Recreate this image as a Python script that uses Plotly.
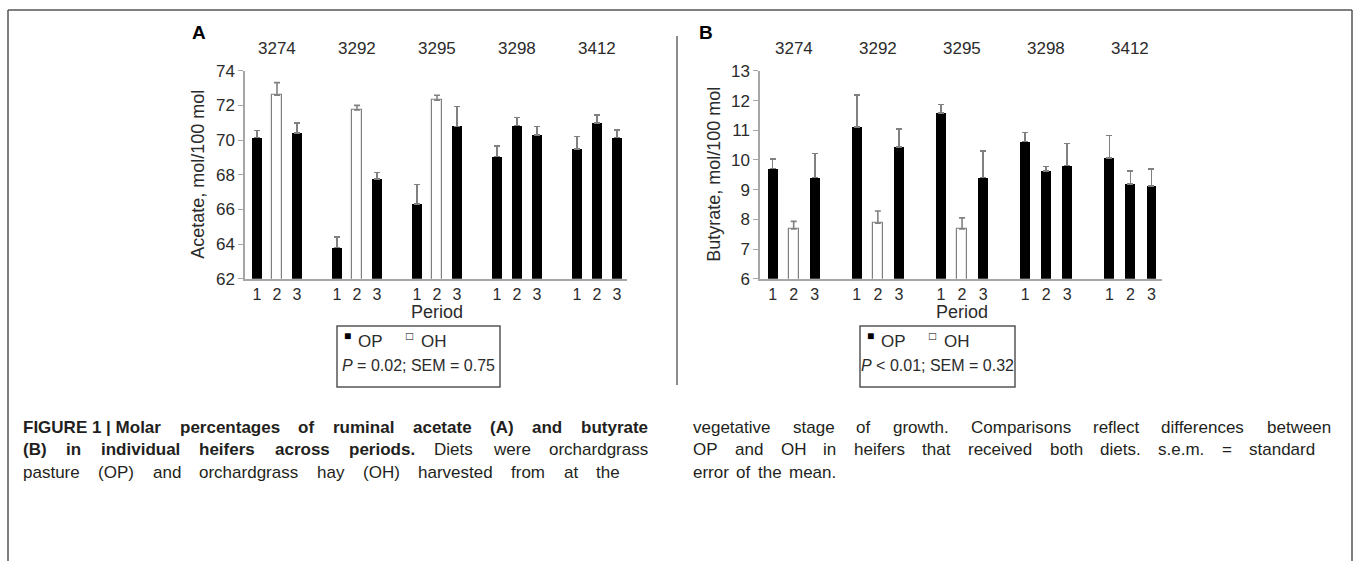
import plotly.graph_objects as go

# ---------------- data ----------------
heifers = ["3274", "3292", "3295", "3298", "3412"]
periods = [1, 2, 3]
diets = [["OP", "OH", "OP"],
         ["OP", "OH", "OP"],
         ["OP", "OH", "OP"],
         ["OP", "OP", "OP"],
         ["OP", "OP", "OP"]]
acetate = [[70.15, 72.6, 70.4],
           [63.8, 71.75, 67.75],
           [66.3, 72.3, 70.8],
           [69.05, 70.85, 70.3],
           [69.5, 71.0, 70.15]]
acetate_sem = [[0.40, 0.72, 0.58],
               [0.62, 0.26, 0.38],
               [1.15, 0.29, 1.15],
               [0.60, 0.46, 0.49],
               [0.71, 0.45, 0.43]]
butyrate = [[9.71, 7.68, 9.41],
            [11.11, 7.87, 10.44],
            [11.58, 7.68, 9.41],
            [10.62, 9.63, 9.81],
            [10.06, 9.20, 9.13]]
butyrate_sem = [[0.33, 0.25, 0.81],
                [1.08, 0.41, 0.60],
                [0.29, 0.37, 0.89],
                [0.31, 0.15, 0.75],
                [0.76, 0.43, 0.57]]
y_titles = ["Acetate, mol/100 mol", "Butyrate, mol/100 mol"]
panel_letters = ["A", "B"]
stats_text = ["<i>P</i> = 0.02; SEM = 0.75", "<i>P</i> &lt; 0.01; SEM = 0.32"]
diet_names = ["OP", "OH"]

caption_left = [
    [("FIGURE\u00a01\u00a0|\u00a0Molar percentages of ruminal acetate (A) and butyrate", True)],
    [("(B) in individual heifers across periods.", True), ("Diets were orchardgrass", False)],
    [("pasture (OP) and orchardgrass hay (OH) harvested from at the", False)],
]
caption_right = [
    [("vegetative stage of growth. Comparisons reflect differences between", False)],
    [("OP and OH in heifers that received both diets. s.e.m. = standard", False)],
    [("error of the mean.", False)],
]

# ---------------- geometry helpers ----------------
W, H = 1355, 571
def px(x): return x / W
def py(y): return 1 - y / H

FONT = "Liberation Sans, Arial, sans-serif"
TXT = "#2b2b2b"
AXC = "#a6a6a6"
GAP = 4  # one empty slot between heifers

def xpos(g, p):
    return g * GAP + (p - 1)

fig = go.Figure()

panels = [
    dict(vals=acetate, sems=acetate_sem, xa="x", ya="y", yr=[62, 74], dt=2,
         xd=[245, 627], title_x=198, letter_x=190, leg=[337, 500]),
    dict(vals=butyrate, sems=butyrate_sem, xa="x2", ya="y2", yr=[6, 13], dt=1,
         xd=[760, 1162], title_x=714, letter_x=697, leg=[860, 1015]),
]
PLOT_TOP, PLOT_BOT = 64, 279
LETTER_Y, HEIFER_Y, PERIOD_Y = 24, 41, 313
LEG_TOP, LEG_BOT, LEG_ROW1, LEG_ROW2 = 328, 391, 344, 369
CAP_Y = [433, 456, 479]
FRAME_TOP = 1

tickvals = [xpos(g, p) for g in range(len(heifers)) for p in periods]
ticktext = [str(p) for g in range(len(heifers)) for p in periods]

annotations = []
shapes = []

def ann(text, x, y, size, xref="paper", xanchor="center", color=TXT, **kw):
    d = dict(text=text, x=x, y=y, xref=xref, yref="paper", xanchor=xanchor, yanchor="middle",
             showarrow=False, font=dict(size=size, color=color, family=FONT))
    d.update(kw)
    annotations.append(d)

for k, pn in enumerate(panels):
    for diet in diet_names:
        xs, ys, es = [], [], []
        for g in range(len(heifers)):
            for i, p in enumerate(periods):
                if diets[g][i] == diet:
                    xs.append(xpos(g, p))
                    ys.append(pn["vals"][g][i])
                    es.append(pn["sems"][g][i])
        fig.add_trace(go.Bar(
            x=xs, y=ys, width=0.47, name=diet, showlegend=False,
            xaxis=pn["xa"], yaxis=pn["ya"],
            marker=dict(color="black" if diet == "OP" else "white",
                        line=dict(color="black" if diet == "OP" else "#7f7f7f",
                                  width=0 if diet == "OP" else 1.2)),
            error_y=dict(type="data", array=es, arrayminus=[0] * len(es),
                         symmetric=False, color="#808080", thickness=1.6, width=3),
        ))
    axn = "" if k == 0 else "2"
    fig.update_layout({
        "xaxis" + axn: dict(domain=[px(pn["xd"][0]), px(pn["xd"][1])], range=[-0.6, 18.5],
                            anchor=pn["ya"], tickmode="array", tickvals=tickvals, ticktext=ticktext,
                            showline=True, linecolor=AXC, linewidth=1.5, ticks="",
                            showgrid=False, zeroline=False,
                            tickfont=dict(size=16, color=TXT, family=FONT)),
        "yaxis" + axn: dict(domain=[py(PLOT_BOT), py(PLOT_TOP)], range=pn["yr"], dtick=pn["dt"],
                            anchor=pn["xa"], showline=True, linecolor=AXC, linewidth=1.5,
                            ticks="outside", ticklen=5, tickcolor=AXC, tickwidth=1,
                            showgrid=False, zeroline=False,
                            tickfont=dict(size=17, color=TXT, family=FONT)),
    })
    for g, hname in enumerate(heifers):
        ann(hname, xpos(g, 2), py(HEIFER_Y), 17, xref=pn["xa"])
    ann(y_titles[k], px(pn["title_x"]), py((PLOT_TOP + PLOT_BOT) / 2), 18, textangle=-90)
    ann("Period", (tickvals[0] + tickvals[-1]) / 2, py(PERIOD_Y), 18, xref=pn["xa"])
    ann("<b>" + panel_letters[k] + "</b>", px(pn["letter_x"]), py(LETTER_Y), 19, xanchor="left", color="black")
    L0, L1 = pn["leg"]
    shapes.append(dict(type="rect", xref="paper", yref="paper", x0=px(L0), x1=px(L1),
                       y0=py(LEG_BOT), y1=py(LEG_TOP), line=dict(color="#555555", width=1.5),
                       fillcolor="rgba(0,0,0,0)"))
    ann("\u25a0", px(L0 + 5), py(LEG_ROW1 - 6), 12, xanchor="left", color="black")
    ann(diet_names[0], px(L0 + 19), py(LEG_ROW1), 17, xanchor="left")
    ann("\u25a1", px(L0 + 67), py(LEG_ROW1 - 6), 12, xanchor="left", color="black")
    ann(diet_names[1], px(L0 + 82), py(LEG_ROW1), 17, xanchor="left")
    ann(stats_text[k], px((L0 + L1) / 2), py(LEG_ROW2), 16)

# divider line between panels and outer frame
shapes.append(dict(type="line", xref="paper", yref="paper", x0=px(677), x1=px(677),
                   y0=py(389), y1=py(28), line=dict(color="#8c8c8c", width=2)))
for (x0, y0, x1, y1) in [(8, FRAME_TOP, 1352, FRAME_TOP), (8, FRAME_TOP, 8, 571),
                         (1352, FRAME_TOP, 1352, 571)]:
    shapes.append(dict(type="line", xref="paper", yref="paper", x0=px(x0), x1=px(x1),
                       y0=py(y0), y1=py(y1), line=dict(color="#555555", width=1.5)))

# ---------------- caption (justified word by word) ----------------
REG = {' ': 278, '(': 333, ')': 333, ',': 278, '.': 278, '/': 278, ';': 278, '=': 584, '<': 584,
       '|': 260, '-': 333, '\u00a0': 278}
BOLD = {' ': 278, '(': 333, ')': 333, ',': 278, '.': 278, '/': 278, ';': 333, '=': 584, '<': 584,
        '|': 280, '-': 333, '\u00a0': 278}
for d in "0123456789":
    REG[d] = 556; BOLD[d] = 556
for c, w in zip("ABCDEFGHIJKLMNOPQRSTUVWXYZ",
                [667, 667, 722, 722, 667, 611, 778, 722, 278, 500, 667, 556, 833, 722, 778, 667, 778,
                 722, 667, 611, 722, 667, 944, 667, 667, 611]):
    REG[c] = w
for c, w in zip("abcdefghijklmnopqrstuvwxyz",
                [556, 556, 500, 556, 556, 278, 556, 556, 222, 222, 500, 222, 833, 556, 556, 556, 556,
                 333, 500, 278, 556, 500, 722, 500, 500, 500]):
    REG[c] = w
for c, w in zip("ABCDEFGHIJKLMNOPQRSTUVWXYZ",
                [722, 722, 722, 722, 667, 611, 778, 722, 278, 556, 722, 611, 833, 722, 778, 667, 778,
                 722, 667, 611, 722, 667, 944, 667, 667, 611]):
    BOLD[c] = w
for c, w in zip("abcdefghijklmnopqrstuvwxyz",
                [556, 611, 556, 611, 556, 333, 611, 611, 278, 278, 556, 278, 889, 611, 611, 611, 611,
                 389, 556, 333, 611, 556, 778, 556, 556, 500]):
    BOLD[c] = w

CAP_SIZE = 17
def word_w(wd, bold):
    t = BOLD if bold else REG
    return sum(t.get(ch, 556) for ch in wd) / 1000 * CAP_SIZE

def place_line(segs, x0, x_end, y):
    words = []
    for txt, bold in segs:
        for wd in txt.split(" "):
            if wd:
                words.append((wd, bold))
    widths = [word_w(w, b) for w, b in words]
    space = REG[' '] / 1000 * CAP_SIZE
    if x_end is None or len(words) < 2:
        gap = space * 1.6
    else:
        gap = max(space * 0.8, (x_end - x0 - sum(widths)) / (len(words) - 1))
    x = x0
    for (wd, bold), w in zip(words, widths):
        t = wd.replace("\u00a0", "&nbsp;")
        annotations.append(dict(text=("<b>%s</b>" % t) if bold else t, x=px(x), y=py(y),
                                xref="paper", yref="paper", xanchor="left", yanchor="middle",
                                showarrow=False, borderpad=0,
                                font=dict(size=CAP_SIZE, color="#231f20", family=FONT)))
        x += w + gap

for segs, y, xe in zip(caption_left, CAP_Y, [647, 647, 619]):
    place_line(segs, 22, xe, y)
for segs, y, xe in zip(caption_right, CAP_Y, [1330, 1314, None]):
    place_line(segs, 692, xe, y)

fig.update_layout(
    width=W, height=H, autosize=False,
    margin=dict(l=0, r=0, t=0, b=0),
    paper_bgcolor="white", plot_bgcolor="white",
    barmode="overlay", bargap=0,
    font=dict(family=FONT, color=TXT),
    annotations=annotations, shapes=shapes,
    showlegend=False,
)

fig.write_html("out.html", config={"displayModeBar": False},
               post_script="document.body.style.margin='0px';")
